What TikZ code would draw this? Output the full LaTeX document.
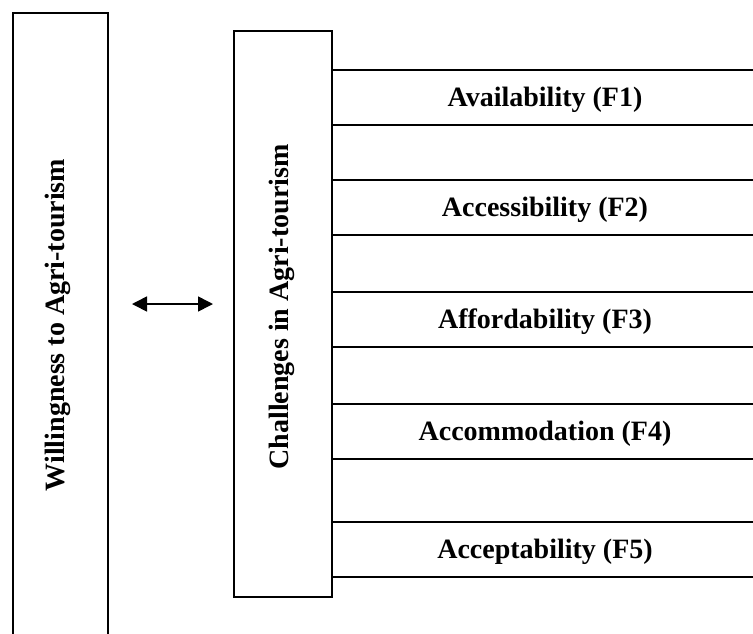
\documentclass[tikz,border=0pt]{standalone}
\usepackage{fontspec}
\setmainfont{Liberation Serif}
\usetikzlibrary{arrows.meta}
\begin{document}
\begin{tikzpicture}[x=1pt,y=-1pt,
  frame/.style={draw=black,line width=1.6pt},
  label/.style={font=\bfseries\fontsize{28}{32}\selectfont},
  band/.style={frame,minimum width=440pt,minimum height=55pt,anchor=north west,inner sep=0pt}]
\useasboundingbox (0,0) rectangle (753,633);
\clip (0,0) rectangle (753,633);
\node[frame,minimum width=95pt,minimum height=660pt,anchor=north west,inner sep=0pt] (will) at (12,12) {};
\node[label,rotate=90] (willtxt) at (58,325) {Willingness to Agri-tourism};
\node[frame,minimum width=98pt,minimum height=566pt,anchor=north west,inner sep=0pt] (chal) at (233,30) {};
\node[label,rotate=90] (chaltxt) at (282,307) {Challenges in Agri-tourism};
\node[band] (f1) at (331,69) {};
\node[band] (f2) at (331,179) {};
\node[band] (f3) at (331,291) {};
\node[band] (f4) at (331,403) {};
\node[band] (f5) at (331,521) {};
\node[label] at (545,100) {Availability (F1)};
\node[label] at (545,210) {Accessibility (F2)};
\node[label] at (545,322) {Affordability (F3)};
\node[label] at (545,434) {Accommodation (F4)};
\node[label] at (545,552) {Acceptability (F5)};
\coordinate (a1) at (132,304);
\coordinate (a2) at (213,304);
\draw[line width=1.6pt,{Triangle[length=15pt,width=15pt]}-{Triangle[length=15pt,width=15pt]}] (a1) -- (a2);
\end{tikzpicture}
\end{document}
